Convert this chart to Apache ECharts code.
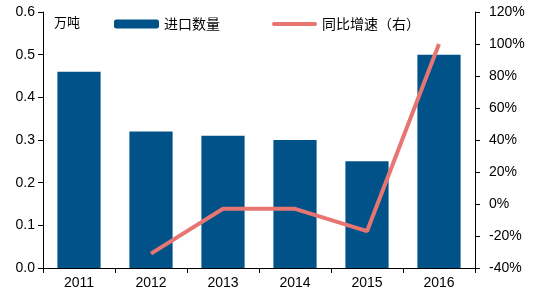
<!DOCTYPE html>
<html><head><meta charset="utf-8">
<script src="https://cdn.jsdelivr.net/npm/echarts@6/dist/echarts.min.js"></script>
<style>html,body{margin:0;padding:0;background:#fff}#c{width:543px;height:296px}</style>
</head><body><div id="c"></div>
<script>
const categories = ['2011','2012','2013','2014','2015','2016'];
const importVolume = [0.46, 0.32, 0.31, 0.30, 0.25, 0.50];
const yoyGrowth = [null, -31, -3, -3, -17, 100];
const leftTicks = {min:0, max:0.6, interval:0.1};
const rightTicks = {min:-40, max:120, interval:20};
const FONT = '"Liberation Sans", Arial, "Noto Sans CJK SC", sans-serif';
const chart = echarts.init(document.getElementById('c'));
chart.setOption({
  animation:false,
  grid:{left:43, right:68, top:12, bottom:28, containLabel:false},
  legend:{left:109, top:12, itemGap:52, itemWidth:45, itemHeight:9, symbolKeepAspect:true,
    textStyle:{fontFamily:'"Noto Sans CJK SC", sans-serif', fontSize:14, color:'#000'},
    data:[{name:'进口数量', icon:'roundRect'},
          {name:'同比增速（右）', icon:'path://M2,0H43A2,2 0 0 1 43,4H2A2,2 0 0 1 2,0Z'}]},
  graphic:[{type:'text', left:54, top:16, style:{text:'万吨', fontFamily:'"Noto Sans CJK SC", sans-serif', fontSize:13, fill:'#000'}}],
  xAxis:{type:'category', data:categories, boundaryGap:true,
    axisLine:{lineStyle:{color:'#000', width:1}},
    axisTick:{show:true, length:5, lineStyle:{color:'#000'}},
    axisLabel:{fontFamily:FONT, fontSize:14, color:'#000', margin:8}},
  yAxis:[
    {type:'value', min:leftTicks.min, max:leftTicks.max, interval:leftTicks.interval,
      splitLine:{show:false},
      axisLine:{show:true, lineStyle:{color:'#000'}},
      axisTick:{show:true, length:5, lineStyle:{color:'#000'}},
      axisLabel:{fontFamily:FONT, fontSize:14, color:'#000', margin:8, formatter:v=>v.toFixed(1)}},
    {type:'value', position:'right', min:rightTicks.min, max:rightTicks.max, interval:rightTicks.interval,
      splitLine:{show:false},
      axisLine:{show:true, lineStyle:{color:'#000'}},
      axisTick:{show:true, length:5, lineStyle:{color:'#000'}},
      axisLabel:{fontFamily:FONT, fontSize:14, color:'#000', margin:14, formatter:v=>v+'%'}}
  ],
  series:[
    {name:'进口数量', type:'bar', data:importVolume, barWidth:'60%', yAxisIndex:0,
      itemStyle:{color:'#005288'}},
    {name:'同比增速（右）', type:'line', data:yoyGrowth, yAxisIndex:1, symbol:'none',
      connectNulls:false, lineStyle:{color:'#E77572', width:4}, itemStyle:{color:'#E77572'}}
  ]
});
</script></body></html>
